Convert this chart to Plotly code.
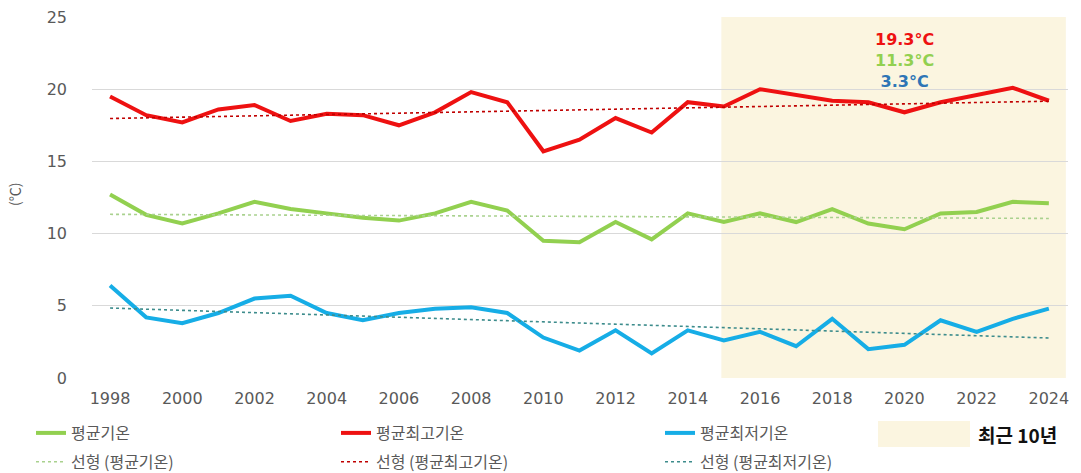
import numpy as np
import plotly.graph_objects as go

years = list(range(1998, 2025))
avg_temp = [12.7, 11.3, 10.7, 11.4, 12.2, 11.7, 11.4, 11.1, 10.9, 11.4, 12.2, 11.6, 9.5, 9.4,
            10.8, 9.6, 11.4, 10.8, 11.4, 10.8, 11.7, 10.7, 10.3, 11.4, 11.5, 12.2, 12.1]
max_temp = [19.5, 18.2, 17.7, 18.6, 18.9, 17.8, 18.3, 18.2, 17.5, 18.4, 19.8, 19.1, 15.7, 16.5,
            18.0, 17.0, 19.1, 18.8, 20.0, 19.6, 19.2, 19.1, 18.4, 19.1, 19.6, 20.1, 19.2]
min_temp = [6.4, 4.2, 3.8, 4.5, 5.5, 5.7, 4.5, 4.0, 4.5, 4.8, 4.9, 4.5, 2.8, 1.9,
            3.3, 1.7, 3.3, 2.6, 3.2, 2.2, 4.1, 2.0, 2.3, 4.0, 3.2, 4.1, 4.8]
recent_start, recent_end = 2015, 2024
recent_labels = ["19.3°C", "11.3°C", "3.3°C"]
x_ticks = list(range(1998, 2025, 2))
y_ticks = [0, 5, 10, 15, 20, 25]

GREEN, RED, BLUE = "#92d050", "#ee1111", "#16ade6"
GREEN_T, RED_T, BLUE_T = "#a9d18e", "#c00000", "#3d8c8c"
LABEL_COLORS = [RED, GREEN, "#2e75b6"]
KFONT = "Noto Sans CJK KR"
TFONT = "DejaVu Sans"
SHADE = "#fbf5e0"

def trend(vals):
    c = np.polyfit(years, vals, 1)
    return list(np.polyval(c, years))

fig = go.Figure()

fig.add_shape(type="rect", xref="x", yref="y",
              x0=recent_start - 0.07, x1=recent_end + 0.47, y0=0, y1=25,
              fillcolor=SHADE, line_width=0, layer="below")

series = [
    ("평균기온", avg_temp, GREEN, GREEN_T, "legend"),
    ("평균최고기온", max_temp, RED, RED_T, "legend2"),
    ("평균최저기온", min_temp, BLUE, BLUE_T, "legend3"),
]
for name, vals, col, tcol, lg in series:
    fig.add_trace(go.Scatter(x=years, y=vals, mode="lines", name=name,
                             line=dict(color=col, width=4), legend=lg,
                             legendgroup=name))
for name, vals, col, tcol, lg in series:
    fig.add_trace(go.Scatter(x=years, y=trend(vals), mode="lines",
                             name=f"선형 ({name})", legend=lg,
                             legendgroup="t" + name,
                             line=dict(color=tcol, width=1.6, dash="dot")))

label_text = "<br>".join(f"<span style='color:{c}'><b>{t}</b></span>"
                         for t, c in zip(recent_labels, LABEL_COLORS))
fig.add_annotation(x=2020, y=22.0, text=label_text, showarrow=False,
                   xanchor="center", yanchor="middle",
                   font=dict(family=TFONT, size=16))

# y axis title
fig.add_annotation(xref="paper", yref="paper", x=(14 - 92) / 976, y=(378 - 195) / 361,
                   xanchor="center", yanchor="middle",
                   text="(℃)", textangle=-90, showarrow=False,
                   font=dict(family=KFONT, size=14, color="#595959"))

# legend box for recent 10 years
fig.add_shape(type="rect", xref="paper", yref="paper",
              x0=(878 - 92) / 976, x1=(970 - 92) / 976,
              y0=(378 - 447) / 361, y1=(378 - 421) / 361,
              fillcolor=SHADE, line_width=0)
fig.add_annotation(xref="paper", yref="paper", x=(976 - 92) / 976, y=(378 - 434) / 361,
                   xanchor="left", yanchor="middle", text="<b>최근 10년</b>", showarrow=False,
                   font=dict(family=KFONT, size=19, color="#111111"))

leg_common = dict(orientation="v", yanchor="top", xanchor="left",
                  bgcolor="rgba(0,0,0,0)", tracegroupgap=5,
                  font=dict(family=KFONT, size=16, color="#595959"))
legy = (378 - 416) / 361
fig.update_layout(
    width=1081, height=473,
    margin=dict(l=92, r=13, t=17, b=95, autoexpand=False),
    paper_bgcolor="white", plot_bgcolor="white",
    legend=dict(x=(31 - 92) / 976, y=legy, **leg_common),
    legend2=dict(x=(336 - 92) / 976, y=legy, **leg_common),
    legend3=dict(x=(660 - 92) / 976, y=legy, **leg_common),
    xaxis=dict(range=[1997.5, 2024.53], tickvals=x_ticks, showgrid=False,
               zeroline=False, showline=False, ticks="", ticklabelstandoff=9,
               tickfont=dict(family=TFONT, size=16, color="#595959")),
    yaxis=dict(range=[0, 25], tickvals=y_ticks, showgrid=True, gridcolor="#d9d9d9",
               gridwidth=1, zeroline=False, showline=False, ticks="",
               ticklabelstandoff=24,
               tickfont=dict(family=TFONT, size=16, color="#595959")),
)

fig.write_html("out.html", config={"displayModeBar": False},
               post_script="document.body.style.margin='0';document.body.style.overflow='hidden';")
